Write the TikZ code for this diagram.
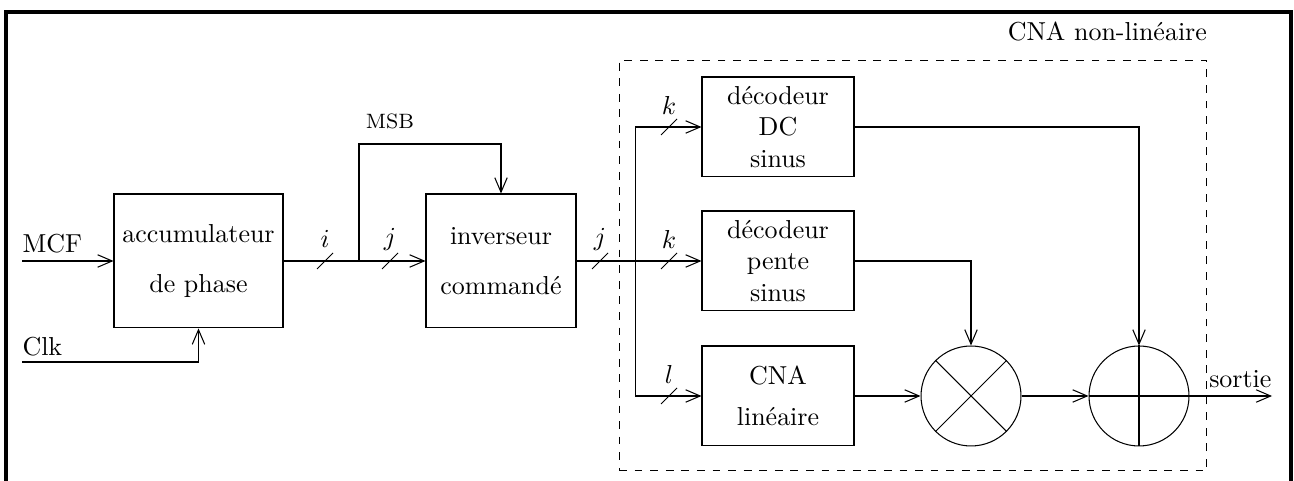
\documentclass[tikz,border=0pt]{standalone}
\usetikzlibrary{arrows.meta}

\tikzset{
    block/.style={draw, minimum width=2.057cm, minimum height=1.353cm, inner sep=0pt, align=center},
    bigblock/.style={block, minimum height=1.813cm},
    opcircle/.style={draw, circle, minimum size=1.353cm, inner sep=0pt},
    busslash/.pic={\draw (-8,8) -- (8,-8);},
}

\begin{document}
\begin{tikzpicture}[x=0.01353cm, y=-0.01353cm, >={Straight Barb[length=5.6pt,width=4.8pt]}]
            \useasboundingbox (0,0) rectangle (1294,481);
            \draw[line width=1.3pt] (6,481)--(6,12)--(1291,12)--(1291,481);

            % chaine principale
            \node[bigblock, minimum width=2.287cm] (acc) at (198.5,261) {accumulateur\\[7pt]de phase};
            \node[bigblock, minimum width=2.03cm] (inv) at (501,261) {inverseur\\[7pt]command\'e};

            % CNA non lineaire
            \node[draw, dashed, minimum width=7.956cm, minimum height=5.561cm] (cna) at (913,265.5) {};
            \node[anchor=south east, inner xsep=0pt, inner ysep=7pt] (cnatitle) at (cna.north east) {CNA non-lin\'eaire};
            \node[block] (dc) at (778,127) {d\'ecodeur\\DC\\sinus};
            \node[block] (pente) at (778,261) {d\'ecodeur\\pente\\sinus};
            \node[block] (lin) at (778,396) {CNA\\[4pt]lin\'eaire};
            \node[opcircle] (mul) at (971,396) {};
            \node[opcircle] (add) at (1139,396) {};
            \draw (mul.north west)--(mul.south east) (mul.north east)--(mul.south west);
            \draw (add.north)--(add.south) (add.west)--(add.east);

            \coordinate (mcfin) at (22,261);
            \coordinate (clkin) at (22,362);
            \coordinate (split) at (359,261);
            \coordinate (msbtop) at (359,144);
            \coordinate (bus) at (635.5,261);
            \coordinate (out) at (1272,396);

            \node[anchor=south west, inner xsep=0pt, inner ysep=3pt] (mcf) at (mcfin) {MCF};
            \node[anchor=south west, inner xsep=0pt, inner ysep=2pt] (clk) at (clkin) {Clk};
            \node[anchor=south east, inner xsep=0pt, inner ysep=3pt] (sortie) at (out) {sortie};
            \node[font=\footnotesize] (msb) at (390,121) {MSB};

            \draw[->] (mcfin)--(acc);
            \draw[->] (clkin)-|(acc);
            \draw[->] (acc)--(inv);
            \draw[->] (split)--(msbtop)-|(inv);
            \draw[->] (inv)--(pente);
            \draw[->] (bus)|-(dc);
            \draw[->] (bus)|-(lin);
            \draw[->] (dc)-|(add);
            \draw[->] (pente)-|(mul);
            \draw[->] (lin)--(mul);
            \draw[->] (mul)--(add);
            \draw[->] (add)--(out);

            % bus
            \foreach \x/\y/\t [count=\n] in {325/261/i, 390/261/j, 600/261/j, 669/127/k, 669/261/k, 669/396/l}{
                \pic at (\x,\y) {busslash};
                \node (bus\n) at (\x,\y-22) {$\t$};
            }
        \end{tikzpicture}
\end{document}
